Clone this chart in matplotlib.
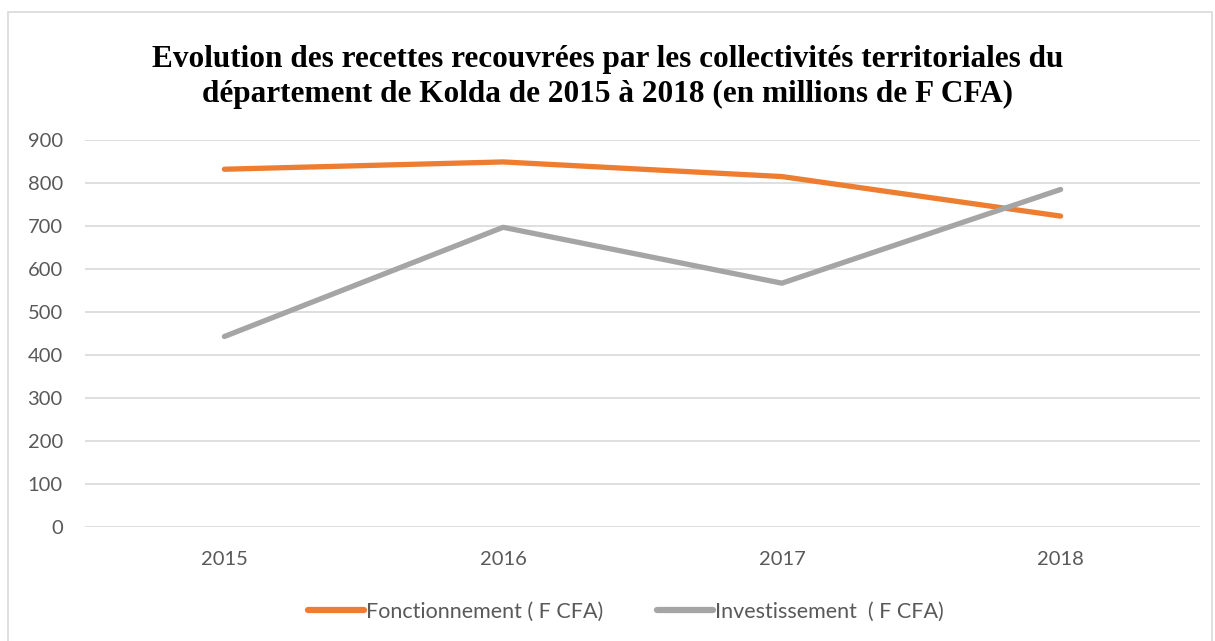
import matplotlib
matplotlib.use('Agg')
from matplotlib import pyplot as plt
from matplotlib.patches import Rectangle

years = ['2015', '2016', '2017', '2018']
fonctionnement = [832, 849, 815, 723]
investissement = [443, 697, 567, 785]

orange = '#ED7D31'
grey = '#A5A5A5'
txt = '#595959'

fig = plt.figure(figsize=(12.15, 6.41), dpi=100)
ax = fig.add_axes([85/1215, 1 - 527/641, (1200-85)/1215, (527-140)/641])

x = range(len(years))
ax.plot(x, fonctionnement, color=orange, lw=3.8, solid_capstyle='round',
        label='Fonctionnement ( F CFA)')
ax.plot(x, investissement, color=grey, lw=3.8, solid_capstyle='round',
        label='Investissement  ( F CFA)')

ax.set_xlim(-0.5, len(years) - 0.5)
ax.set_ylim(0, 900)
ax.set_yticks(range(0, 901, 100))
ax.set_xticks(list(x))
ax.set_xticklabels(years)
ax.yaxis.grid(True, color='#D9D9D9', lw=1.2)
ax.set_axisbelow(True)
for s in ax.spines.values():
    s.set_visible(False)
ax.tick_params(length=0, labelsize=14.5, labelcolor=txt)
ax.tick_params(axis='y', pad=16)
ax.tick_params(axis='x', pad=17)
for lab in ax.get_xticklabels() + ax.get_yticklabels():
    lab.set_family('Lato')

fig.text(0.5, 1 - 77/641,
         'Evolution des recettes recouvrées par les collectivités territoriales du\n'
         'département de Kolda de 2015 à 2018 (en millions de F CFA)',
         ha='center', va='center', fontsize=22.5, fontweight='bold',
         family='Liberation Serif', linespacing=1.25)

leg = fig.legend(loc='center', bbox_to_anchor=(626/1215, 1 - 612/641), ncol=2,
                 frameon=False, handlelength=2.6, handletextpad=0.1,
                 columnspacing=2.5, prop={'family': 'Lato', 'size': 15.5})
for t in leg.get_texts():
    t.set_color(txt)
for h in leg.get_lines():
    h.set_linewidth(4.5)

fig.patches.append(Rectangle((8/1215, -0.02), 1204/1215, 1 - 12/641 + 0.02,
                             transform=fig.transFigure, fill=False,
                             edgecolor='#D9D9D9', lw=1.2))

plt.savefig('out.png', dpi=100)
